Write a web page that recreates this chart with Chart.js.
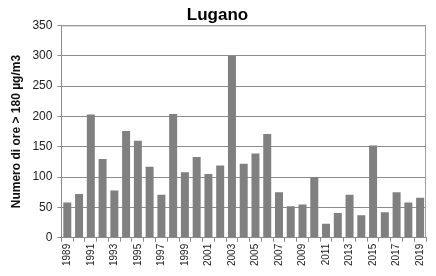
<!DOCTYPE html>
<html>
<head>
<meta charset="utf-8">
<script src="https://cdn.jsdelivr.net/npm/chart.js@4.4.0/dist/chart.umd.min.js"></script>
<style>
  html, body { margin: 0; padding: 0; background: #fff; }
  #wrap { width: 436px; height: 276px; }
</style>
</head>
<body>
<div id="wrap"><canvas id="bar"></canvas></div>
<script>
var anni = ["1989","1990","1991","1992","1993","1994","1995","1996","1997","1998",
  "1999","2000","2001","2002","2003","2004","2005","2006","2007","2008",
  "2009","2010","2011","2012","2013","2014","2015","2016","2017","2018","2019"];
var ore = [58, 72, 203, 130, 78, 176, 160, 117, 71, 204,
  108, 133, 105, 119, 300, 122, 139, 171, 75, 52,
  55, 100, 23, 41, 71, 37, 152, 42, 75, 58, 66];
var yTicks = [0, 50, 100, 150, 200, 250, 300, 350];

// cornice grigia attorno all'area del grafico
const cornice = {
  id: "cornice",
  afterDraw(chart) {
    const a = chart.chartArea;
    const c = chart.ctx;
    c.save();
    c.strokeStyle = "#a0a0a0";
    c.lineWidth = 1;
    c.beginPath();
    c.moveTo(a.left, a.top + 0.5);
    c.lineTo(a.right - 0.5, a.top + 0.5);
    c.lineTo(a.right - 0.5, a.bottom);
    c.stroke();
    c.restore();
  }
};

let ctx = document.getElementById("bar");
new Chart(ctx, {
  type: "bar",
  data: {
    labels: anni,
    datasets: [{
      data: ore,
      backgroundColor: "#808080",
      borderWidth: 0,
      barPercentage: 0.68,
      categoryPercentage: 1
    }]
  },
  options: {
    responsive: true,
    maintainAspectRatio: false,
    animation: false,
    layout: { padding: { left: 9, right: 10, top: 0, bottom: 8 } },
    scales: {
      y: {
        min: 0,
        max: 350,
        afterBuildTicks: (ax) => { ax.ticks = yTicks.map(v => ({ value: v })); },
        grid: { color: "#8c8c8c", drawTicks: true, tickLength: 4, tickColor: "#8c8c8c" },
        border: { color: "#8c8c8c" },
        ticks: { color: "#222", font: { family: "Liberation Sans, Arial", size: 12 }, padding: 5 },
        title: {
          display: true,
          text: "Numero di ore > 180 µg/m3",
          color: "#111",
          font: { family: "Liberation Sans, Arial", size: 12, weight: "bold" },
          padding: { top: 0, bottom: 4 }
        }
      },
      x: {
        offset: true,
        grid: { offset: true, drawOnChartArea: false, drawTicks: true, tickLength: 4, color: "#8c8c8c" },
        border: { color: "#8c8c8c" },
        ticks: {
          autoSkip: false,
          maxRotation: 90,
          minRotation: 90,
          color: "#222",
          padding: 2,
          font: { family: "Liberation Sans, Arial", size: 10 },
          callback: function (v, i) { return i % 2 === 0 ? this.getLabelForValue(v) : ""; }
        }
      }
    },
    plugins: {
      legend: { display: false },
      tooltip: { enabled: false },
      title: {
        display: true,
        text: "Lugano",
        color: "#000",
        font: { family: "Liberation Sans, Arial", size: 17, weight: "bold" },
        padding: { top: 5, bottom: 0 }
      }
    }
  },
  plugins: [cornice]
});
</script>
</body>
</html>
